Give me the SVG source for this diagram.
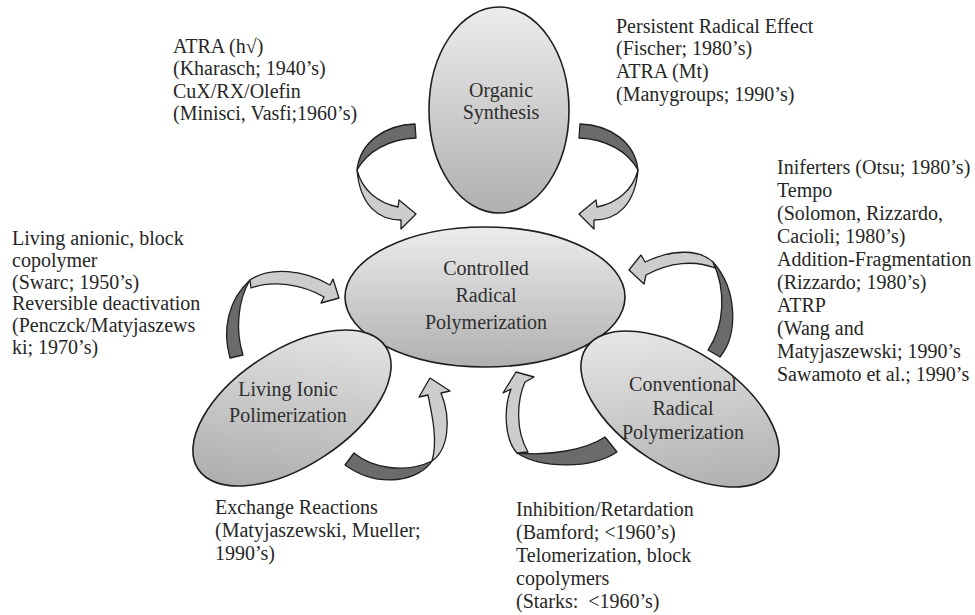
<svg xmlns="http://www.w3.org/2000/svg" width="975" height="615" viewBox="0 0 975 615">
<defs>
<linearGradient id="gV" x1="0" y1="0" x2="0" y2="1">
<stop offset="0" stop-color="#ececec"/><stop offset="1" stop-color="#b0b0b0"/>
</linearGradient>
<linearGradient id="gL" x1="1" y1="0.2" x2="0" y2="0.8">
<stop offset="0" stop-color="#e8e8e8"/><stop offset="1" stop-color="#a9a9a9"/>
</linearGradient>
<linearGradient id="gR" x1="0" y1="0.2" x2="1" y2="0.8">
<stop offset="0" stop-color="#ebebeb"/><stop offset="1" stop-color="#acacac"/>
</linearGradient>
<style>
.lbl{font-family:"Liberation Serif","Times New Roman",serif;font-size:20px;fill:#262626}
.nt{font-family:"Liberation Serif","Times New Roman",serif;font-size:20px;fill:#2e2e2e;text-anchor:middle}
.node{stroke:#1e1e1e;stroke-width:1.6}
.dk{fill:#6b6b6b;stroke:#1e1e1e;stroke-width:1.3;stroke-linejoin:round}
.lt{fill:#cdcdcd;stroke:#1e1e1e;stroke-width:1.3;stroke-linejoin:round}
</style>
</defs>
<rect width="975" height="615" fill="#ffffff"/>

<g id="connectors">
<g id="arrow-tl">
<path class="dk" d="M415,124 C385,125 360,142 357,170 C367,152 388,139 416,138 Z"/>
<path class="lt" d="M357,170 C362,190 378,203 398,207 L399,200 L416,214 L401,229 L401,220 C378,220 360,205 357,170 Z"/>
</g>
<g id="arrow-tr" transform="matrix(-1 0 0 1 995 0)">
<path class="dk" d="M415,124 C385,125 360,142 357,170 C367,152 388,139 416,138 Z"/>
<path class="lt" d="M357,170 C362,190 378,203 398,207 L399,200 L416,214 L401,229 L401,220 C378,220 360,205 357,170 Z"/>
</g>
<g id="arrow-r">
<path class="dk" d="M708,350 L720,357 C738,335 738,290 713,262 C726,290 725,325 708,350 Z"/>
<path class="lt" d="M713,262 C700,250 675,248 645,262 L641,255 L629,270 L644,284 L646,275 C670,262 695,260 715,268 Z"/>
</g>
<g id="arrow-l">
<path class="dk" d="M230,358 L243,355 C235,330 238,300 250,280 C228,300 222,330 230,358 Z"/>
<path class="lt" d="M250,280 C270,266 305,270 330,285 L333,279 L339,298 L321,303 L324,297 C302,284 272,280 251,288 Z"/>
</g>
<g id="arrow-bl">
<path class="dk" d="M354,453 C372,468 405,474 432,461 C420,480 380,490 345,465 Z"/>
<path class="lt" d="M432,461 C438,440 432,415 428,395 L419,397 L430,378 L450,391 L441,393 C452,420 448,450 432,461 Z"/>
</g>
<g id="arrow-br">
<path class="dk" d="M605,437 C585,450 550,456 517,453 C540,468 590,470 617,452 Z"/>
<path class="lt" d="M517,453 C505,440 503,410 511,389 L503,393 L516,372 L534,377 L525,382 C517,400 515,430 528,452 Z"/>
</g>
</g>

<g id="node-organic">
<ellipse class="node" cx="499" cy="110" rx="70" ry="103" fill="url(#gV)"/>
<text class="nt" x="501" y="97">Organic</text>
<text class="nt" x="501" y="119">Synthesis</text>
</g>
<g id="node-controlled">
<ellipse class="node" cx="485" cy="297" rx="140" ry="70" fill="url(#gV)"/>
<text class="nt" x="486" y="275">Controlled</text>
<text class="nt" x="486" y="302">Radical</text>
<text class="nt" x="486" y="329">Polymerization</text>
</g>
<g id="node-living">
<ellipse class="node" cx="0" cy="0" rx="112" ry="58" fill="url(#gL)" transform="translate(292 408) rotate(-33)"/>
<text class="nt" x="288" y="396">Living Ionic</text>
<text class="nt" x="288" y="422">Polimerization</text>
</g>
<g id="node-conventional">
<ellipse class="node" cx="0" cy="0" rx="112" ry="58" fill="url(#gR)" transform="translate(680 409) rotate(33)"/>
<text class="nt" x="683" y="391">Conventional</text>
<text class="nt" x="683" y="415">Radical</text>
<text class="nt" x="683" y="439">Polymerization</text>
</g>

<g id="label-tl">
<text class="lbl" x="173" y="53">ATRA (h√)</text>
<text class="lbl" x="173" y="75">(Kharasch; 1940’s)</text>
<text class="lbl" x="173" y="98">CuX/RX/Olefin</text>
<text class="lbl" x="173" y="120">(Minisci, Vasfi;1960’s)</text>
</g>
<g id="label-tr">
<text class="lbl" x="616" y="33">Persistent Radical Effect</text>
<text class="lbl" x="616" y="55">(Fischer; 1980’s)</text>
<text class="lbl" x="616" y="78">ATRA (Mt)</text>
<text class="lbl" x="616" y="101">(Manygroups; 1990’s)</text>
</g>
<g id="label-r">
<text class="lbl" x="777" y="174">Iniferters (Otsu; 1980’s)</text>
<text class="lbl" x="777" y="197">Tempo</text>
<text class="lbl" x="777" y="220">(Solomon, Rizzardo,</text>
<text class="lbl" x="777" y="243">Cacioli; 1980’s)</text>
<text class="lbl" x="777" y="266">Addition-Fragmentation</text>
<text class="lbl" x="777" y="289">(Rizzardo; 1980’s)</text>
<text class="lbl" x="777" y="312">ATRP</text>
<text class="lbl" x="777" y="335">(Wang and</text>
<text class="lbl" x="777" y="358">Matyjaszewski; 1990’s</text>
<text class="lbl" x="777" y="381">Sawamoto et al.; 1990’s</text>
</g>
<g id="label-l">
<text class="lbl" x="12" y="245">Living anionic, block</text>
<text class="lbl" x="12" y="267">copolymer</text>
<text class="lbl" x="12" y="289">(Swarc; 1950’s)</text>
<text class="lbl" x="12" y="310">Reversible deactivation</text>
<text class="lbl" x="12" y="332">(Penczck/Matyjaszews</text>
<text class="lbl" x="12" y="354">ki; 1970’s)</text>
</g>
<g id="label-bl">
<text class="lbl" x="215" y="514">Exchange Reactions</text>
<text class="lbl" x="215" y="537">(Matyjaszewski, Mueller;</text>
<text class="lbl" x="215" y="560">1990’s)</text>
</g>
<g id="label-br">
<text class="lbl" x="516" y="516">Inhibition/Retardation</text>
<text class="lbl" x="516" y="539">(Bamford; &lt;1960’s)</text>
<text class="lbl" x="516" y="562">Telomerization, block</text>
<text class="lbl" x="516" y="585">copolymers</text>
<text class="lbl" x="516" y="608" xml:space="preserve">(Starks:  &lt;1960’s)</text>
</g>
</svg>
